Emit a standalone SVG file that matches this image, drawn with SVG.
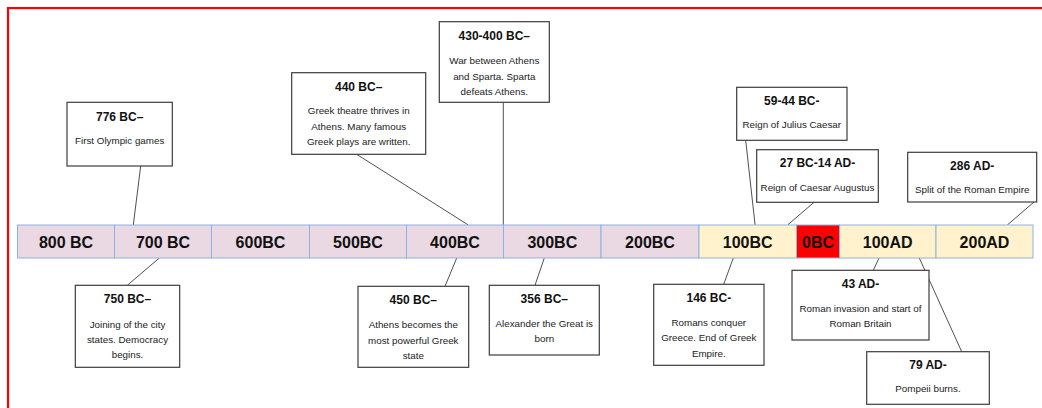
<svg xmlns="http://www.w3.org/2000/svg" width="1042" height="408" viewBox="0 0 1042 408">
<style>
.frame{fill:none;stroke:#ff0000;stroke-width:2.2}
.cell{stroke:#8db3e2;stroke-width:1}
.pink{fill:#ead8e3}
.yel{fill:#fff2cc}
.red{fill:#ff0000}
.lbl{font-family:"Liberation Sans",Arial,sans-serif;font-weight:bold;font-size:16px;fill:#111;text-anchor:middle}
.box{fill:#ffffff;stroke:#3c3c3c;stroke-width:1.2}
.ttl{font-family:"Liberation Sans",Arial,sans-serif;font-weight:bold;font-size:12px;fill:#111;text-anchor:middle}
.body{font-family:"Liberation Sans",Arial,sans-serif;font-size:9.8px;fill:#222;text-anchor:middle}
.con{stroke:#505050;stroke-width:1;fill:none}
</style>
<rect class="frame" x="8" y="8" width="1040" height="410"/>
<g id="connectors">
<line class="con" x1="140.7" y1="166" x2="133.3" y2="225"/>
<line class="con" x1="356.7" y1="154.3" x2="468.3" y2="225"/>
<line class="con" x1="503.3" y1="102.3" x2="503.3" y2="225"/>
<line class="con" x1="745.7" y1="140.3" x2="755.1" y2="225"/>
<line class="con" x1="814" y1="202.3" x2="787.6" y2="225"/>
<line class="con" x1="1034" y1="202" x2="1007.3" y2="225"/>
<line class="con" x1="127.3" y1="285.3" x2="159.3" y2="258"/>
<line class="con" x1="445" y1="286.3" x2="456.7" y2="258"/>
<line class="con" x1="535" y1="285.3" x2="544.3" y2="258"/>
<line class="con" x1="723.7" y1="284.3" x2="733.3" y2="258"/>
<line class="con" x1="873.3" y1="270.3" x2="879" y2="258"/>
<line class="con" x1="961.7" y1="351.7" x2="919.3" y2="258"/>
</g>
<g id="timeline">
<rect class="cell pink" x="17.5" y="225" width="97" height="33"/>
<rect class="cell pink" x="114.5" y="225" width="97" height="33"/>
<rect class="cell pink" x="211.5" y="225" width="98" height="33"/>
<rect class="cell pink" x="309.5" y="225" width="97" height="33"/>
<rect class="cell pink" x="406.5" y="225" width="97" height="33"/>
<rect class="cell pink" x="503.5" y="225" width="97.5" height="33"/>
<rect class="cell pink" x="601" y="225" width="98" height="33"/>
<rect class="cell yel" x="699" y="225" width="97.5" height="33"/>
<rect class="cell red" x="796.5" y="225" width="43" height="33"/>
<rect class="cell yel" x="839.5" y="225" width="96.5" height="33"/>
<rect class="cell yel" x="936" y="225" width="97" height="33"/>
<text class="lbl" x="66" y="247.5">800 BC</text>
<text class="lbl" x="163" y="247.5">700 BC</text>
<text class="lbl" x="260.5" y="247.5">600BC</text>
<text class="lbl" x="358" y="247.5">500BC</text>
<text class="lbl" x="455" y="247.5">400BC</text>
<text class="lbl" x="552.3" y="247.5">300BC</text>
<text class="lbl" x="650" y="247.5">200BC</text>
<text class="lbl" x="747.7" y="247.5">100BC</text>
<text class="lbl" x="818" y="247.5">0BC</text>
<text class="lbl" x="887.7" y="247.5">100AD</text>
<text class="lbl" x="984.5" y="247.5">200AD</text>
</g>
<g id="n776">
<rect class="box" x="67" y="102.3" width="105.3" height="63.7"/>
<text class="ttl" x="119.7" y="121">776 BC–</text>
<text class="body" x="119.7" y="144">First Olympic games</text>
</g>
<g id="n440">
<rect class="box" x="291.7" y="72.7" width="134" height="81.6"/>
<text class="ttl" x="358.7" y="91">440 BC–</text>
<text class="body" x="358.7" y="114.3">Greek theatre thrives in</text>
<text class="body" x="358.7" y="130">Athens. Many famous</text>
<text class="body" x="358.7" y="145.3">Greek plays are written.</text>
</g>
<g id="n430">
<rect class="box" x="439.3" y="21.7" width="110" height="80.6"/>
<text class="ttl" x="494.3" y="39.5">430-400 BC–</text>
<text class="body" x="494.3" y="64">War between Athens</text>
<text class="body" x="494.3" y="79.5">and Sparta. Sparta</text>
<text class="body" x="494.3" y="95">defeats Athens.</text>
</g>
<g id="n59">
<rect class="box" x="736.7" y="87.3" width="110.3" height="53"/>
<text class="ttl" x="791.8" y="105">59-44 BC-</text>
<text class="body" x="791.8" y="128.3">Reign of Julius Caesar</text>
</g>
<g id="n27">
<rect class="box" x="756.7" y="149.7" width="121.6" height="52.6"/>
<text class="ttl" x="817.5" y="167.3">27 BC-14 AD-</text>
<text class="body" x="817.5" y="190.7">Reign of Caesar Augustus</text>
</g>
<g id="n286">
<rect class="box" x="907.7" y="152.3" width="129" height="49.7"/>
<text class="ttl" x="972.2" y="170">286 AD-</text>
<text class="body" x="972.2" y="193.3">Split of the Roman Empire</text>
</g>
<g id="n750">
<rect class="box" x="75.3" y="285.3" width="104.4" height="82"/>
<text class="ttl" x="127.5" y="303.3">750 BC–</text>
<text class="body" x="127.5" y="327.7">Joining of the city</text>
<text class="body" x="127.5" y="342.7">states. Democracy</text>
<text class="body" x="127.5" y="357.7">begins.</text>
</g>
<g id="n450">
<rect class="box" x="358" y="286.3" width="110.7" height="81"/>
<text class="ttl" x="413.3" y="304">450 BC–</text>
<text class="body" x="413.3" y="328.3">Athens becomes the</text>
<text class="body" x="413.3" y="343.7">most powerful Greek</text>
<text class="body" x="413.3" y="359">state</text>
</g>
<g id="n356">
<rect class="box" x="489.3" y="285.3" width="110" height="69.7"/>
<text class="ttl" x="544.3" y="303.3">356 BC–</text>
<text class="body" x="544.3" y="327.3">Alexander the Great is</text>
<text class="body" x="544.3" y="342.3">born</text>
</g>
<g id="n146">
<rect class="box" x="653.7" y="284.3" width="110.3" height="81"/>
<text class="ttl" x="708.8" y="302.3">146 BC-</text>
<text class="body" x="708.8" y="326">Romans conquer</text>
<text class="body" x="708.8" y="341.3">Greece. End of Greek</text>
<text class="body" x="708.8" y="356.7">Empire.</text>
</g>
<g id="n43">
<rect class="box" x="792" y="270.3" width="137" height="69.7"/>
<text class="ttl" x="860.5" y="288.3">43 AD-</text>
<text class="body" x="860.5" y="311.7">Roman invasion and start of</text>
<text class="body" x="860.5" y="327.3">Roman Britain</text>
</g>
<g id="n79">
<rect class="box" x="866.7" y="351.7" width="122.6" height="52.6"/>
<text class="ttl" x="928" y="369">79 AD-</text>
<text class="body" x="928" y="392.3">Pompeii burns.</text>
</g>
</svg>
